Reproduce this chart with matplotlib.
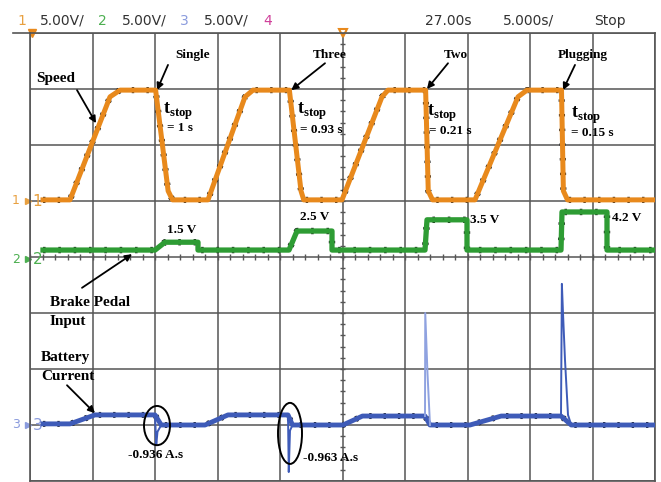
import numpy as np
import matplotlib.pyplot as plt
from matplotlib.patches import Ellipse

plt.rcParams['mathtext.fontset'] = 'custom'
plt.rcParams['mathtext.bf'] = 'Liberation Serif:bold'
plt.rcParams['mathtext.rm'] = 'Liberation Serif:bold'

# scope settings: 5 s/div horizontally, 5 V/div vertically, 10 x 8 divisions
SEC_PER_DIV = 5.0
VOLT_PER_DIV = 5.0

# channel 1 - speed (V)
speed_t = [1.04, 3.2, 6.4, 7.2, 10.05, 11.05, 11.4,
           14.24, 17.2, 17.84, 20.75, 21.68, 21.9,
           24.96, 28.16, 28.64, 31.65, 31.86, 32.2,
           35.6, 39.04, 39.76, 42.52, 42.67, 43.0, 50.0]
speed_v = [0.1, 0.1, 9.3, 9.9, 9.9, 0.9, 0.1,
           0.1, 9.3, 9.9, 9.9, 0.9, 0.1,
           0.1, 9.3, 9.9, 9.9, 0.9, 0.1,
           0.1, 9.3, 9.9, 9.9, 0.9, 0.1, 0.1]

# channel 2 - brake pedal input (V)
brake_t = [1.04, 10.0, 10.8, 13.44, 13.44,
           20.72, 21.36, 24.16, 24.16,
           31.6, 31.76, 34.96, 34.96,
           42.48, 42.56, 46.16, 46.16, 50.0]
brake_v = [0.8, 0.8, 1.5, 1.5, 0.8,
           0.8, 2.5, 2.5, 0.8,
           0.8, 3.5, 3.5, 0.8,
           0.8, 4.2, 4.2, 0.8, 0.8]
brake_levels = [1.5, 2.5, 3.5, 4.2]

# channel 3 - battery current (V across shunt)
batt_t = [1.04, 3.2, 5.2, 10.0, 10.5, 14.0, 15.84, 20.64, 21.0,
          25.04, 26.6, 31.6, 32.0, 35.2, 37.7, 42.48, 43.3, 50.0]
batt_v = [0.1, 0.1, 0.9, 0.9, 0.0, 0.0, 0.9, 0.9, 0.0,
          0.0, 0.8, 0.8, 0.0, 0.0, 0.8, 0.8, 0.0, 0.0]
# braking transients on the battery current
spike_t = [[10.0, 10.1, 10.2, 10.5],
           [20.64, 20.7, 20.8, 21.0],
           [31.6, 31.62, 31.8, 32.0],
           [42.48, 42.55, 42.64, 42.8, 43.04, 43.3]]
spike_v = [[0.9, -1.8, -0.6, 0.0],
           [0.9, -4.2, -0.5, 0.0],
           [0.8, 10.0, 4.6, 0.0],
           [0.8, 12.6, 10.0, 5.8, 0.9, 0.0]]
spike_c = ['#3E5BB8', '#3E5BB8', '#8FA2E0', '#3E5BB8']
charge = ['-0.936 A.s', '-0.963 A.s']
t_stop = ['1', '0.93', '0.21', '0.15']
methods = ['Single', 'Three', 'Two', 'Plugging']

# ground offsets of each channel, in divisions
CH1_OFS, CH2_OFS, CH3_OFS = 1.0, -0.036, -3.0

C1, C2, C3 = '#E8891C', '#2E9C34', '#3E5BB8'

def to_div(v, ofs):
    return np.asarray(v) / VOLT_PER_DIV + ofs

fig = plt.figure(figsize=(6.61, 4.82), dpi=100)
W, H = 661, 482
ax = fig.add_axes([30 / W, 1 - 481 / H, 625 / W, 448 / H])
ax.set_xlim(0, 10 * SEC_PER_DIV)
ax.set_ylim(-4, 4)
ax.set_xticks(np.arange(0, 51, SEC_PER_DIV))
ax.set_yticks(np.arange(-4, 5, 1))
ax.tick_params(length=0, labelbottom=False, labelleft=False)
ax.grid(True, color='#555555', lw=1.1)
for s in ax.spines.values():
    s.set_color('#555555')
    s.set_linewidth(1.2)

# fine ticks on the centre axes
ax.vlines(np.arange(0, 50, 1), -0.05, 0.05, color='#555555', lw=1)
ax.hlines(np.arange(-4, 4, 0.2), 24.8, 25.2, color='#555555', lw=1)

def trace(t, y, color, lw):
    ax.plot(t, y, color='#1a1a1a', lw=lw + 0.8, ls=(0, (0.4, 2.0)), zorder=3)
    ax.plot(t, y, color=color, lw=lw, zorder=4, solid_joinstyle='round')

trace(speed_t, to_div(speed_v, CH1_OFS), C1, 3.6)
trace(brake_t, to_div(brake_v, CH2_OFS), C2, 3.8)
trace(batt_t, to_div(batt_v, CH3_OFS), C3, 3.5)
for st, sv, c in zip(spike_t, spike_v, spike_c):
    ax.plot(st, to_div(sv, CH3_OFS), color=c, lw=1.4, zorder=4)

bold = dict(family='Liberation Serif', weight='bold', color='black')
arrow = dict(arrowstyle='-|>', color='black', lw=1.3, mutation_scale=10,
             shrinkA=0, shrinkB=0)

ax.text(0.48, 3.18, 'Speed', fontsize=11, va='center', **bold)
ax.annotate('', xy=(5.28, 2.39), xytext=(3.76, 2.98), arrowprops=arrow)

label_pos = [(11.6, 3.61), (22.6, 3.61), (33.1, 3.61), (42.24, 3.61)]
arrow_tail = [(11.04, 3.43), (23.6, 3.46), (33.44, 3.46), (43.6, 3.43)]
arrow_head = [(10.16, 2.98), (20.9, 2.98), (31.76, 3.0), (42.64, 2.98)]
for name, p, tl, hd in zip(methods, label_pos, arrow_tail, arrow_head):
    ax.text(p[0], p[1], name, fontsize=9.5, va='center', **bold)
    ax.annotate('', xy=hd, xytext=tl, arrowprops=arrow)

tstop_pos = [(10.64, 2.6), (21.36, 2.6), (31.76, 2.56), (43.28, 2.52)]
teq_pos = [(10.96, 2.31), (21.6, 2.26), (31.92, 2.25), (43.28, 2.21)]
for ts, p, q in zip(t_stop, tstop_pos, teq_pos):
    ax.text(p[0], p[1], r'$\mathbf{t}_{\mathbf{stop}}$', fontsize=13,
            va='center', zorder=6)
    ax.text(q[0], q[1], f'= {ts} s', fontsize=9.5, va='center', zorder=6, **bold)

volt_pos = [10.96, 21.6, 35.2, 46.56]
volt_dy = [0.22, 0.25, 0.0, -0.1]
for lv, x, dy in zip(brake_levels, volt_pos, volt_dy):
    ax.text(x, to_div(lv, CH2_OFS) + dy, f'{lv} V', fontsize=9.5,
            va='center', zorder=6, **bold)

ax.text(1.6, -0.82, 'Brake Pedal', fontsize=11, va='center', **bold)
ax.text(1.6, -1.16, 'Input', fontsize=11, va='center', **bold)
ax.annotate('', xy=(8.16, 0.05), xytext=(4.16, -0.55), arrowprops=arrow)

ax.text(0.88, -1.8, 'Battery', fontsize=11, va='center', **bold)
ax.text(0.88, -2.14, 'Current', fontsize=11, va='center', **bold)
ax.annotate('', xy=(5.2, -2.79), xytext=(2.96, -2.29), arrowprops=arrow)

ax.add_patch(Ellipse((10.16, -3.01), 2.08, 0.70, fill=False, ec='black',
                     lw=1.4, zorder=5))
ax.add_patch(Ellipse((20.8, -3.15), 1.92, 1.09, fill=False, ec='black',
                     lw=1.4, zorder=5))
ax.text(7.84, -3.54, charge[0], fontsize=9.5, va='center', **bold)
ax.text(21.84, -3.59, charge[1], fontsize=9.5, va='center', **bold)

# channel ground markers on the left edge
for lab, ofs, c in [('1', CH1_OFS, '#E8A040'), ('2', CH2_OFS, '#4CAF50'),
                    ('3', CH3_OFS, '#8A9BDD')]:
    ax.text(0.2, ofs, lab, color=c, fontsize=11, va='center', ha='left',
            family='DejaVu Sans')
    ax.plot(-0.2, ofs, marker='>', color=c, ms=5, clip_on=False)
    ax.text(-1.15, ofs, lab, color=c, fontsize=9, va='center', ha='center',
            family='DejaVu Sans')

# trigger and time reference markers on the top edge
ax.plot(0.15, 4.0, marker='v', color=C1, ms=6, clip_on=False)
ax.plot(25, 4.0, marker='v', color=C1, ms=6, mfc='none', mew=1.5, clip_on=False)

# status line above the graticule
def htext(x, s, c='#333333'):
    fig.text(x / W, 1 - 21 / H, s, color=c, fontsize=10, va='center',
             family='DejaVu Sans')
htext(17, '1', '#E8A040')
htext(40, '5.00V/')
htext(98, '2', '#4CAF50')
htext(122, '5.00V/')
htext(180, '3', '#8A9BDD')
htext(204, '5.00V/')
htext(263, '4', '#D0409A')
htext(425, '27.00s')
htext(503, '5.000s/')
htext(594, 'Stop')
fig.add_artist(plt.Line2D([13 / W, 30 / W], [1 - 33 / H] * 2, color='#555555',
                          lw=1.2))

fig.savefig('out.png', dpi=100)
